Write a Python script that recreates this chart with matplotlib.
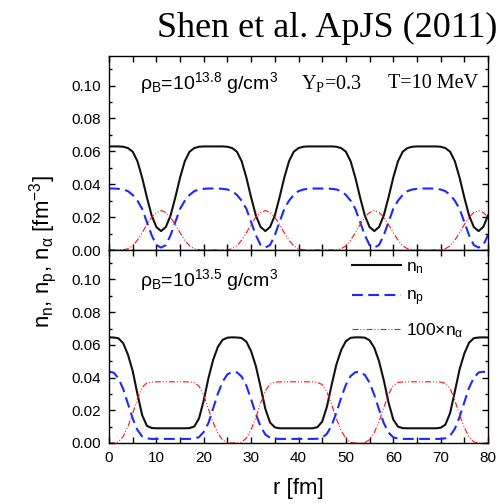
import numpy as np
import matplotlib
matplotlib.use('Agg')
import matplotlib.pyplot as plt
from matplotlib.ticker import MultipleLocator

plt.rcParams['font.family'] = ['Liberation Sans', 'DejaVu Sans']
plt.rcParams['mathtext.default'] = 'regular'

# radius grid [fm]
r_fm = np.arange(0, 81)

# upper panel: rho_B = 10^13.8 g/cm^3
nn_top = [0.0630, 0.0630, 0.0630, 0.0628, 0.0620, 0.0598, 0.0540, 0.0440, 0.0320, 0.0210, 0.0140,
          0.0115, 0.0140, 0.0210, 0.0320, 0.0440, 0.0540, 0.0598, 0.0620, 0.0628, 0.0630, 0.0630, 0.0630,
          0.0630, 0.0630, 0.0628, 0.0620, 0.0598, 0.0540, 0.0440, 0.0320, 0.0210, 0.0140, 0.0115,
          0.0140, 0.0210, 0.0320, 0.0440, 0.0540, 0.0598, 0.0620, 0.0628, 0.0630, 0.0630, 0.0630,
          0.0630, 0.0630, 0.0630, 0.0628, 0.0620, 0.0598, 0.0540, 0.0440, 0.0320, 0.0210, 0.0140, 0.0115,
          0.0140, 0.0210, 0.0320, 0.0440, 0.0540, 0.0598, 0.0620, 0.0628, 0.0630, 0.0630, 0.0630,
          0.0630, 0.0630, 0.0628, 0.0620, 0.0598, 0.0540, 0.0440, 0.0320, 0.0210, 0.0140, 0.0115, 0.0140, 0.0210]
np_top = [0.0374, 0.0374, 0.0372, 0.0368, 0.0358, 0.0335, 0.0300, 0.0250, 0.0170, 0.0090, 0.0030,
          0.0015, 0.0030, 0.0090, 0.0170, 0.0250, 0.0300, 0.0335, 0.0358, 0.0368, 0.0372, 0.0374, 0.0374,
          0.0374, 0.0372, 0.0368, 0.0358, 0.0335, 0.0300, 0.0250, 0.0170, 0.0090, 0.0030, 0.0015,
          0.0030, 0.0090, 0.0170, 0.0250, 0.0300, 0.0335, 0.0358, 0.0368, 0.0372, 0.0374, 0.0374,
          0.0374, 0.0374, 0.0372, 0.0368, 0.0358, 0.0335, 0.0300, 0.0250, 0.0170, 0.0090, 0.0030, 0.0015,
          0.0030, 0.0090, 0.0170, 0.0250, 0.0300, 0.0335, 0.0358, 0.0368, 0.0372, 0.0374, 0.0374,
          0.0374, 0.0372, 0.0368, 0.0358, 0.0335, 0.0300, 0.0250, 0.0170, 0.0090, 0.0030, 0.0015, 0.0030, 0.0090]
na_top = [0, 0, 0, 0.0001, 0.0008, 0.0025, 0.0060, 0.0105, 0.0155, 0.0200, 0.0228,
          0.0240, 0.0228, 0.0200, 0.0155, 0.0105, 0.0060, 0.0025, 0.0008, 0.0001, 0, 0, 0,
          0, 0, 0.0001, 0.0008, 0.0025, 0.0060, 0.0105, 0.0155, 0.0200, 0.0228, 0.0240,
          0.0228, 0.0200, 0.0155, 0.0105, 0.0060, 0.0025, 0.0008, 0.0001, 0, 0, 0,
          0, 0, 0, 0.0001, 0.0008, 0.0025, 0.0060, 0.0105, 0.0155, 0.0200, 0.0228, 0.0240,
          0.0228, 0.0200, 0.0155, 0.0105, 0.0060, 0.0025, 0.0008, 0.0001, 0, 0, 0,
          0, 0, 0.0001, 0.0008, 0.0025, 0.0060, 0.0105, 0.0155, 0.0200, 0.0228, 0.0240, 0.0228, 0.0200]

# lower panel: rho_B = 10^13.5 g/cm^3
nn_bot = [0.0646, 0.0645, 0.0640, 0.0610, 0.0540, 0.0440, 0.0300, 0.0170, 0.0105, 0.0092, 0.0090,
          0.0090, 0.0090, 0.0090, 0.0090, 0.0090, 0.0090, 0.0091, 0.0101, 0.0150, 0.0261,
          0.0398, 0.0510, 0.0589, 0.0631, 0.0644, 0.0646, 0.0645, 0.0642, 0.0619, 0.0561,
          0.0470, 0.0342, 0.0209, 0.0125, 0.0096, 0.0090, 0.0090, 0.0090, 0.0090, 0.0090,
          0.0090, 0.0090, 0.0090, 0.0097, 0.0131, 0.0222, 0.0356, 0.0480, 0.0568, 0.0622,
          0.0643, 0.0646, 0.0646, 0.0644, 0.0628, 0.0582, 0.0500, 0.0384, 0.0248, 0.0144,
          0.0100, 0.0091, 0.0090, 0.0090, 0.0090, 0.0090, 0.0090, 0.0090, 0.0090, 0.0093,
          0.0112, 0.0183, 0.0314, 0.0450, 0.0547, 0.0613, 0.0641, 0.0645, 0.0646, 0.0645]
np_bot = [0.0436, 0.0430, 0.0395, 0.0330, 0.0240, 0.0150, 0.0080, 0.0040, 0.0028, 0.0025, 0.0025,
          0.0025, 0.0025, 0.0025, 0.0025, 0.0025, 0.0025, 0.0025, 0.0027, 0.0036, 0.0068,
          0.0123, 0.0213, 0.0303, 0.0376, 0.0420, 0.0434, 0.0432, 0.0406, 0.0350, 0.0267,
          0.0177, 0.0101, 0.0052, 0.0032, 0.0026, 0.0025, 0.0025, 0.0025, 0.0025, 0.0025,
          0.0025, 0.0025, 0.0025, 0.0026, 0.0033, 0.0056, 0.0108, 0.0186, 0.0276, 0.0356,
          0.0409, 0.0433, 0.0434, 0.0416, 0.0369, 0.0294, 0.0204, 0.0122, 0.0064, 0.0035,
          0.0027, 0.0025, 0.0025, 0.0025, 0.0025, 0.0025, 0.0025, 0.0025, 0.0025, 0.0025,
          0.0029, 0.0044, 0.0087, 0.0159, 0.0249, 0.0337, 0.0399, 0.0431, 0.0436, 0.0427]
na_bot = [0, 0, 0.0008, 0.0040, 0.0100, 0.0180, 0.0270, 0.0340, 0.0368, 0.0372, 0.0374,
          0.0374, 0.0374, 0.0374, 0.0374, 0.0374, 0.0374, 0.0373, 0.0369, 0.0348, 0.0291,
          0.0207, 0.0124, 0.0058, 0.0018, 0.0002, 0, 0, 0.0005, 0.0030, 0.0082,
          0.0156, 0.0243, 0.0319, 0.0360, 0.0371, 0.0374, 0.0374, 0.0374, 0.0374, 0.0374,
          0.0374, 0.0374, 0.0374, 0.0370, 0.0357, 0.0312, 0.0234, 0.0148, 0.0076, 0.0027,
          0.0003, 0, 0, 0.0002, 0.0021, 0.0064, 0.0132, 0.0216, 0.0298, 0.0351,
          0.0370, 0.0373, 0.0374, 0.0374, 0.0374, 0.0374, 0.0374, 0.0374, 0.0374, 0.0372,
          0.0365, 0.0333, 0.0261, 0.0172, 0.0094, 0.0037, 0.0007, 0, 0, 0]

ytick_vals = [0.00, 0.02, 0.04, 0.06, 0.08, 0.10]
xtick_vals = [0, 10, 20, 30, 40, 50, 60, 70, 80]

fig = plt.figure(figsize=(5.04, 5.04), dpi=100)
W = 504.0
ax_top = fig.add_axes([109 / W, (W - 250) / W, 379 / W, 194 / W])
ax_bot = fig.add_axes([109 / W, (W - 443) / W, 379 / W, 193 / W])


def style_axis(ax):
    ax.set_xlim(0, 80)
    ax.set_ylim(0, 0.118)
    ax.set_xticks(xtick_vals)
    ax.xaxis.set_minor_locator(MultipleLocator(5))
    ax.set_yticks(ytick_vals)
    ax.set_yticklabels(['%.2f' % v for v in ytick_vals])
    ax.yaxis.set_minor_locator(MultipleLocator(0.01))
    ax.tick_params(which='both', direction='in', top=True, right=True, width=1.0)
    ax.tick_params(axis='x', which='both', length=4.5, labelsize=11, pad=6)
    ax.tick_params(axis='y', which='major', length=4.5, labelsize=11, pad=6)
    ax.tick_params(axis='y', which='minor', length=2.5)
    for s in ax.spines.values():
        s.set_linewidth(1.0)


def draw(ax, nn, npr, na):
    ax.plot(r_fm, nn, color='#111111', lw=1.5, label='n$_\\mathregular{n}$')
    ax.plot(r_fm, npr, color='#1a2aff', lw=1.5, dashes=(5.2, 2.6), label='n$_\\mathregular{p}$')
    ax.plot(r_fm, na, color='#ff1010', lw=0.8, dashes=(5.4, 1.8, 0.9, 1.8, 0.9, 1.8),
            label='100\u00d7n$_\\mathregular{\u03b1}$')


draw(ax_top, nn_top, np_top, na_top)
draw(ax_bot, nn_bot, np_bot, na_bot)
style_axis(ax_top)
style_axis(ax_bot)
ax_top.tick_params(axis='x', labelbottom=False)

ax_top.text(0.082, 0.86, '\u03c1$_\\mathregular{B}$=10$^\\mathregular{13.8}$ g/cm$^\\mathregular{3}$',
            transform=ax_top.transAxes, fontsize=14, va='center', ha='left')
ax_top.text(0.506, 0.86, 'Y$_\\mathregular{P}$=0.3', transform=ax_top.transAxes,
            fontsize=14.5, family='Liberation Serif', va='center', ha='left')
ax_top.text(0.975, 0.86, 'T=10 MeV', transform=ax_top.transAxes,
            fontsize=14.5, family='Liberation Serif', va='center', ha='right')
ax_bot.text(0.082, 0.845, '\u03c1$_\\mathregular{B}$=10$^\\mathregular{13.5}$ g/cm$^\\mathregular{3}$',
            transform=ax_bot.transAxes, fontsize=14, va='center', ha='left')

ax_bot.legend(loc='upper right', bbox_to_anchor=(0.935, 0.955), frameon=False, fontsize=12.5,
              handlelength=2.8, handletextpad=0.3, labelspacing=0.75, borderpad=0, borderaxespad=0)

ax_bot.set_xlabel('r [fm]', fontsize=16, labelpad=9)
fig.text(0.085, 0.50, 'n$_\\mathregular{n}$, n$_\\mathregular{p}$, n$_\\mathregular{\u03b1}$ [fm$^\\mathregular{-3}$]',
         rotation=90, fontsize=16, va='center', ha='center')
fig.text(497 / W, 1 - 37 / W, 'Shen et al. ApJS (2011)', family='Liberation Serif',
         fontsize=26, ha='right', va='baseline')

fig.savefig('out.png', dpi=100)
